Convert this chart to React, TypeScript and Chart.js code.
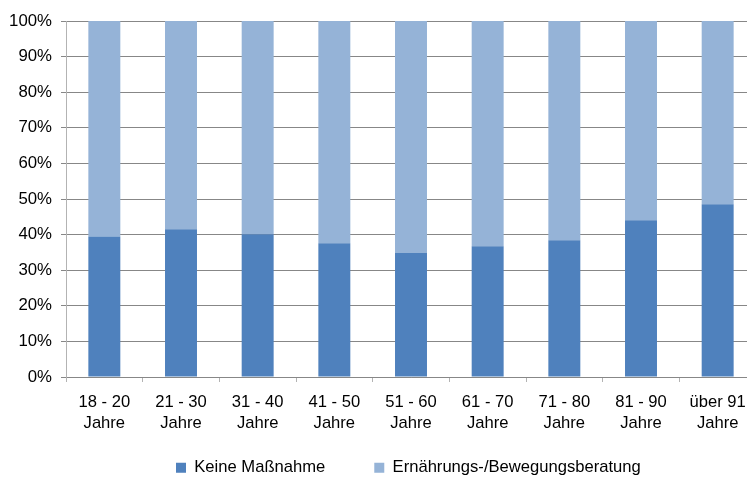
import React, { useEffect, useRef } from 'react';
import { Chart, registerables } from 'chart.js';

Chart.register(...registerables);

// Age groups (two-line axis labels)
const categories: string[][] = [
  ['18 - 20', 'Jahre'],
  ['21 - 30', 'Jahre'],
  ['31 - 40', 'Jahre'],
  ['41 - 50', 'Jahre'],
  ['51 - 60', 'Jahre'],
  ['61 - 70', 'Jahre'],
  ['71 - 80', 'Jahre'],
  ['81 - 90', 'Jahre'],
  ['über 91', 'Jahre'],
];

const seriesNames = ['Keine Maßnahme', 'Ernährungs-/Bewegungsberatung'];

// Share per age group, in percent
const keineMassnahme = [39.5, 41.5, 40.1, 37.6, 34.8, 36.7, 38.4, 44.0, 48.5];
const beratung = [60.5, 58.5, 59.9, 62.4, 65.2, 63.3, 61.6, 56.0, 51.5];

const FONT = "'Liberation Sans', Arial, sans-serif";

const LEGEND_PAD = 49;
const LEGEND_X = 176;
const LEGEND_Y = 459.5;

// Keeps the legend band compact and places its row under the plot
const legendPlacement = {
  id: 'legendPlacement',
  beforeLayout(chart: any) {
    const lg = chart.legend;
    if (lg && !lg.__compact) {
      const fit = lg.fit.bind(lg);
      lg.fit = () => {
        fit();
        lg.height = 30;
      };
      lg.__compact = true;
    }
  },
  afterLayout(chart: any) {
    const lg = chart.legend;
    if (!lg) return;
    lg.left = LEGEND_X - LEGEND_PAD;
    lg.right = lg.left + 700;
    lg.width = 700;
    lg.top = LEGEND_Y - LEGEND_PAD;
    lg.bottom = lg.top + LEGEND_PAD + 30;
    lg.height = lg.bottom - lg.top;
  },
};

export default function App() {
  const canvasRef = useRef<HTMLCanvasElement | null>(null);

  useEffect(() => {
    if (!canvasRef.current) return;
    const chart = new Chart(canvasRef.current, {
      type: 'bar',
      data: {
        labels: categories,
        datasets: [
          {
            label: seriesNames[0],
            data: keineMassnahme,
            backgroundColor: '#4F81BD',
            categoryPercentage: 1,
            barPercentage: 0.417,
          },
          {
            label: seriesNames[1],
            data: beratung,
            backgroundColor: '#95B3D7',
            categoryPercentage: 1,
            barPercentage: 0.417,
          },
        ],
      },
      options: {
        animation: false,
        responsive: true,
        maintainAspectRatio: false,
        events: [],
        layout: { padding: { top: 21, right: 1, bottom: 0, left: 0 } },
        plugins: {
          legend: {
            position: 'bottom',
            align: 'start',
            labels: {
              boxWidth: 10,
              boxHeight: 10,
              padding: LEGEND_PAD,
              color: '#000',
              font: { family: FONT, size: 16.6 },
            },
          },
          tooltip: { enabled: false },
        },
        scales: {
          x: {
            stacked: true,
            grid: {
              offset: true,
              drawOnChartArea: false,
              drawTicks: true,
              tickLength: 5,
              tickColor: '#b3b3b3',
            },
            border: { color: '#878787' },
            ticks: {
              color: '#000',
              font: { family: FONT, size: 16.6, lineHeight: '21px' },
              padding: 9.5,
              maxRotation: 0,
              autoSkip: false,
            },
            afterFit(scale: any) {
              scale.height = 71;
            },
          },
          y: {
            stacked: true,
            min: 0,
            max: 100,
            ticks: {
              stepSize: 10,
              color: '#000',
              font: { family: FONT, size: 16.8 },
              padding: 9,
              callback: (v: any) => v + '%',
            },
            grid: { color: '#878787', tickLength: 5 },
            border: { color: '#b3b3b3' },
            afterFit(scale: any) {
              scale.width = 66;
            },
          },
        },
      },
      plugins: [legendPlacement],
    } as any);
    return () => chart.destroy();
  }, []);

  return (
    <div
      style={{
        position: 'fixed',
        left: 0,
        top: 0,
        width: 747,
        height: 478,
        overflow: 'hidden',
        background: '#fff',
      }}
    >
      <div style={{ position: 'relative', width: 757, height: 478 }}>
        <canvas ref={canvasRef} />
      </div>
    </div>
  );
}
